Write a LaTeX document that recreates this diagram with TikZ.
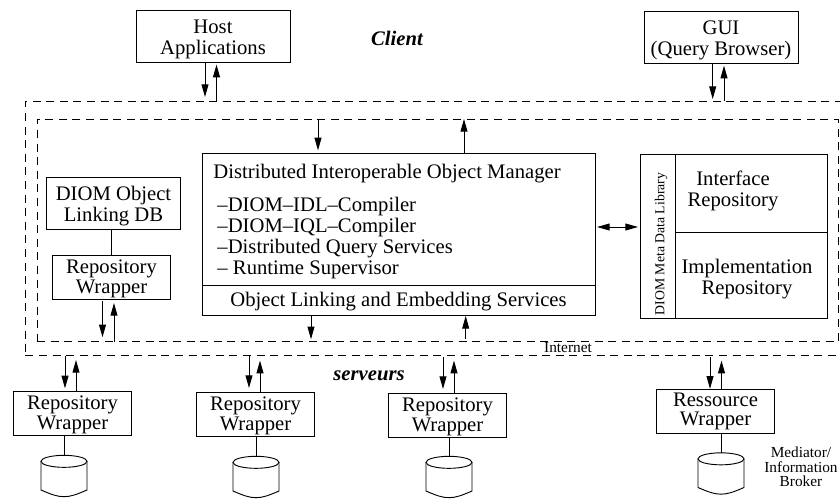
\documentclass[tikz,border=0pt]{standalone}
\usepackage{fontspec}
\setmainfont{Liberation Serif}
\usetikzlibrary{arrows.meta,positioning}
\newcommand{\bigtext}{\fontsize{15.5}{15.8}\selectfont}
\newcommand{\tighttext}{\fontsize{15.5}{14.4}\selectfont}
\newcommand{\smalltext}{\fontsize{11.5}{11}\selectfont}
\newcommand{\lift}{\rule{0pt}{15pt}}
\newcommand{\liftless}{\rule{0pt}{13pt}}
% the disc under a wrapper, drawn round an empty node
\newcommand{\tankdraw}[1]{
        \draw ([yshift=-4.5pt]#1.north) ellipse [x radius=17.25pt,y radius=4.5pt];
        \draw ([yshift=-4.5pt]#1.north west) -- ([yshift=5pt]#1.south west)
            .. controls ([xshift=8pt,yshift=1.5pt]#1.south west) and ([xshift=-5pt]#1.south) .. (#1.south)
            .. controls ([xshift=5pt]#1.south) and ([xshift=-8pt,yshift=1.5pt]#1.south east) .. ([yshift=5pt]#1.south east)
            -- ([yshift=-4.5pt]#1.north east);
}
\begin{document}
\begin{tikzpicture}[x=0.75pt,y=-0.75pt,line width=0.7pt,
        box/.style={draw,rectangle,align=center,inner sep=0pt,outer sep=0pt,font=\bigtext},
        wrapper/.style={box,font=\tighttext,minimum width=89pt,minimum height=33pt},
        frame/.style={draw,rectangle,dash pattern=on 6pt off 4.2pt,inner sep=0pt,outer sep=0pt},
        tank/.style={rectangle,inner sep=0pt,outer sep=0pt,minimum width=34.5pt,minimum height=31pt},
        flow/.style={-{Triangle[length=9.5pt,width=5.2pt]}}]
        \useasboundingbox (0,0) rectangle (840,499);

        % frames
        \node[frame,minimum width=619pt,minimum height=191.2pt] (outer) at (438,228.5) {};
        \node[frame,minimum width=600.8pt,minimum height=167.2pt] (inner) at (437.5,230.5) {};

        % client side
        \node[box,minimum width=115.5pt,minimum height=39pt] (host) at (213,36) {\lift Host\\Applications};
        \node[box,minimum width=115.5pt,minimum height=38.3pt] (gui) at (721,37.5) {\lift GUI\\(Query Browser)};
        \node[font=\bigtext\bfseries\itshape] (client) at (397,38) {Client};
        \node[font=\bigtext\bfseries\itshape] (serveurs) at (369,375.5) {serveurs};
        \node[font=\smalltext] (internet) at (568,348) {Internet};

        % manager
        \node[box,minimum width=294.8pt,minimum height=99pt] (manager) at (398.5,219) {};
        \node[font=\bigtext,anchor=west,inner sep=0pt] (title) at (213,174) {Distributed Interoperable Object Manager};
        \node[font=\bigtext,align=left,inner sep=0pt] (tools) [below=9.5pt of title.south west,anchor=north west,xshift=3pt] {--DIOM--IDL--Compiler\\--DIOM--IQL--Compiler\\--Distributed Query Services\\-- Runtime Supervisor};
        \node[box,minimum width=294.8pt,minimum height=23.2pt] (linking) [below=0pt of manager] {\liftless Object Linking and Embedding Services};

        % meta data
        \node[box,minimum width=26.2pt,minimum height=123pt] (library) at (657.5,236) {};
        \node[rotate=90,font=\fontsize{10.3}{11}\selectfont] (librarytext) at (661,244) {DIOM Meta Data Library};
        \node[box,minimum width=114pt,minimum height=59.2pt] (interface) at (751,193.5) {};
        \node[font=\bigtext,align=center] (interfacetext) at (733,191) {Interface\\Repository};
        \node[box,minimum width=114pt,minimum height=63.8pt] (implementation) [below=0pt of interface] {};
        \node[font=\bigtext,align=center] (implementationtext) at (747,279.5) {Implementation\\Repository};

        % repository inside
        \node[box,minimum width=100pt,minimum height=38.3pt] (linkdb) at (113.5,203.5) {\lift DIOM Object\\Linking DB};
        \node[wrapper] (repo) at (111.5,277) {\liftless Repository\\Wrapper};

        % servers
        \node[wrapper] (repo1) at (72.5,413) {\liftless Repository\\Wrapper};
        \node[wrapper] (repo2) at (255.5,414) {\liftless Repository\\Wrapper};
        \node[wrapper] (repo3) at (447.5,415) {\liftless Repository\\Wrapper};
        \node[wrapper] (res) at (715.5,411.5) {Ressource\\Wrapper};

        \node[tank] (db1) at (64,476) {};
        \node[tank] (db2) at (256,477) {};
        \node[tank] (db3) at (449,477) {};
        \node[tank] (db4) at (721,473.5) {};
        \tankdraw{db1}
        \tankdraw{db2}
        \tankdraw{db3}
        \tankdraw{db4}
        \node[font=\smalltext,align=center] (broker) at (801,467) {Mediator/\\Information\\Broker};

        % plain links
        \draw (linkdb.south -| repo.north) to (repo.north);
        \draw (repo1.south -| db1.north) to (db1.north);
        \draw (repo2.south -| db2.north) to (db2.north);
        \draw (repo3.south -| db3.north) to (db3.north);
        \draw (res.south -| db4.north) to (db4.north);

        % positions of the arrows
        \coordinate (a1) at (205,0);  \coordinate (b1) at (216.5,0);
        \coordinate (a2) at (712.7,0); \coordinate (b2) at (724,0);
        \coordinate (a3) at (318,0);  \coordinate (b3) at (464,0);
        \coordinate (a4) at (311,0);  \coordinate (b4) at (465.7,0);
        \coordinate (a5) at (102.5,0); \coordinate (b5) at (114,0);
        \coordinate (a6) at (65,0);   \coordinate (b6) at (76,0);
        \coordinate (a7) at (249,0);  \coordinate (b7) at (260,0);
        \coordinate (a8) at (443,0);  \coordinate (b8) at (454,0);
        \coordinate (a9) at (710,0);  \coordinate (b9) at (721.5,0);
        \coordinate (c1) at (0,227);

        \draw[flow,shorten >=3pt] (host.south -| a1) to (outer.north -| a1);
        \draw[flow,shorten >=2pt] (outer.north -| b1) to (host.south -| b1);
        \draw[flow,shorten >=1.5pt] (gui.south -| a2) to (outer.north -| a2);
        \draw[flow,shorten >=2pt] (outer.north -| b2) to (gui.south -| b2);
        \draw[flow,shorten >=2pt] (inner.north -| a3) to (manager.north -| a3);
        \draw[flow] (manager.north -| b3) to (inner.north -| b3);
        \draw[flow,shorten >=2pt] (linking.south -| a4) to (inner.south -| a4);
        \draw[flow,shorten <=2pt] (inner.south -| b4) to (linking.south -| b4);
        \draw[flow,shorten <=1.5pt,shorten >=3.5pt] (repo.south -| a5) to (inner.south -| a5);
        \draw[flow,shorten >=3pt] (inner.south -| b5) to (repo.south -| b5);
        \draw[flow,shorten >=2pt] (outer.south -| a6) to (repo1.north -| a6);
        \draw[flow,shorten >=3pt] (repo1.north -| b6) to (outer.south -| b6);
        \draw[flow,shorten >=3pt] (outer.south -| a7) to (repo2.north -| a7);
        \draw[flow,shorten >=3.5pt] (repo2.north -| b7) to (outer.south -| b7);
        \draw[flow,shorten <=1pt,shorten >=3pt] (outer.south -| a8) to (repo3.north -| a8);
        \draw[flow,shorten >=3.5pt] (repo3.north -| b8) to (outer.south -| b8);
        \draw[flow,shorten <=1pt,shorten >=0.5pt] (outer.south -| a9) to (res.north -| a9);
        \draw[flow,shorten >=3.5pt] (res.north -| b9) to (outer.south -| b9);
        \draw[{Triangle[length=9.5pt,width=5.2pt]}-{Triangle[length=9.5pt,width=5.2pt]},shorten <=1.5pt,shorten >=1.5pt] (manager.east |- c1) to (library.west |- c1);
    \end{tikzpicture}
\end{document}
